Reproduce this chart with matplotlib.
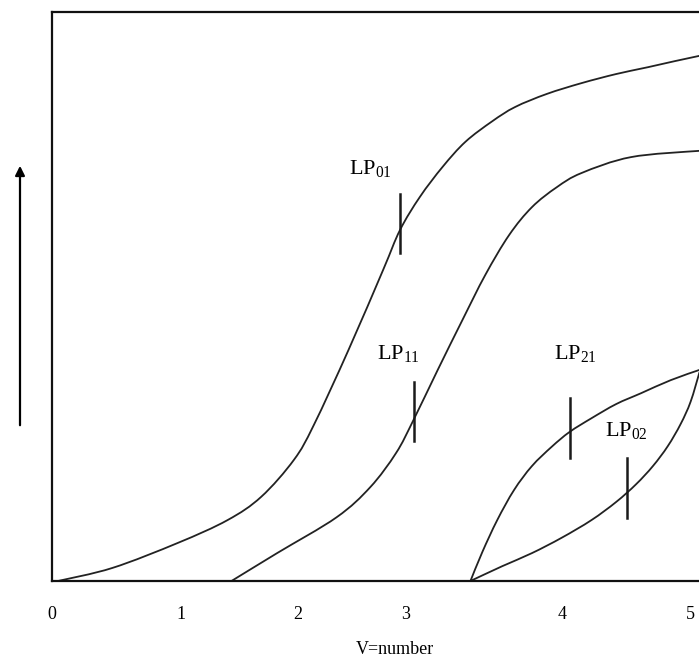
import matplotlib
matplotlib.use("Agg")
import numpy as np
import matplotlib.pyplot as plt
from matplotlib.patches import FancyArrowPatch, PathPatch
from matplotlib.path import Path

plt.rcParams['font.family'] = ['Liberation Serif', 'DejaVu Serif']
plt.rcParams['mathtext.fontset'] = 'custom'
plt.rcParams['mathtext.rm'] = 'Liberation Serif'

# curves, x in V-ish units (0 = left axis), y in 0..1
lp01_x = [0.00, 0.55, 1.21, 1.71, 2.05, 2.38, 2.58, 2.93, 3.28, 3.45, 3.65, 3.88, 4.11,
          4.38, 4.61, 4.93, 5.28, 5.63, 5.95, 6.47, 6.68]
lp01_y = [0.000, 0.023, 0.067, 0.107, 0.148, 0.213, 0.274, 0.406, 0.547, 0.617, 0.675,
          0.728, 0.772, 0.808, 0.833, 0.856, 0.875, 0.891, 0.903, 0.923, 0.928]

lp11_x = [1.75, 2.21, 2.81, 3.15, 3.41, 3.58, 3.83, 4.08, 4.31, 4.55, 4.78, 5.03, 5.28,
          5.78, 6.47, 6.68]
lp11_y = [0.000, 0.049, 0.112, 0.165, 0.225, 0.281, 0.371, 0.459, 0.538, 0.608, 0.657,
          0.692, 0.717, 0.745, 0.756, 0.757]

lp21_x = [4.16, 4.28, 4.43, 4.60, 4.78, 4.98, 5.16, 5.38, 5.63, 5.88, 6.18, 6.47]
lp21_y = [0.000, 0.051, 0.107, 0.160, 0.202, 0.236, 0.262, 0.286, 0.311, 0.330, 0.353, 0.371]

lp02_x = [4.16, 4.48, 4.78, 5.08, 5.38, 5.63, 5.83, 6.00, 6.15, 6.28, 6.38, 6.47]
lp02_y = [0.000, 0.026, 0.049, 0.076, 0.107, 0.139, 0.170, 0.202, 0.237, 0.276, 0.315, 0.367]

tick_pos = [-0.06, 1.24, 2.42, 3.51, 5.08, 6.38]
tick_lab = ['0', '1', '2', '3', '4', '5']

# (subscript, text x, text y, mark x, mark y0, mark y1)
marks = [
    ('01', 2.94, 0.724, 3.45, 0.576, 0.681),
    ('11', 3.22, 0.398, 3.59, 0.246, 0.350),
    ('21', 5.00, 0.398, 5.16, 0.216, 0.322),
    ('02', 5.52, 0.264, 5.74, 0.111, 0.216),
]


def smooth_path(xs, ys):
    # bezier through the read points (catmull-rom tangents), drawn by matplotlib
    p = np.column_stack([xs, ys])
    verts = [p[0]]
    codes = [Path.MOVETO]
    for i in range(len(p) - 1):
        a = p[i - 1] if i > 0 else p[i]
        d = p[i + 2] if i + 2 < len(p) else p[i + 1]
        c1 = p[i] + (p[i + 1] - a) / 6
        c2 = p[i + 1] - (d - p[i]) / 6
        verts += [c1, c2, p[i + 1]]
        codes += [Path.CURVE4] * 3
    return Path(verts, codes)


fig = plt.figure(figsize=(6.99, 6.64), dpi=100)
ax = fig.add_axes([52 / 699, 83 / 664, 708 / 699, 569 / 664])
ax.set_xlim(0, 7.08)
ax.set_ylim(0, 1)

for xs, ys in [(lp01_x, lp01_y), (lp11_x, lp11_y), (lp21_x, lp21_y), (lp02_x, lp02_y)]:
    ax.add_patch(PathPatch(smooth_path(xs, ys), facecolor='none',
                           edgecolor='#222222', lw=1.3))

for sub, tx, ty, mx, y0, y1 in marks:
    ax.plot([mx, mx], [y0, y1], color='#1a1a1a', lw=1.8)
    ax.text(tx, ty, 'LP$_{\\mathrm{' + sub + '}}$', fontsize=16, ha='left', va='center')

for s in ax.spines.values():
    s.set_linewidth(1.6)
    s.set_color('#111111')

ax.set_xticks(tick_pos)
ax.set_xticklabels(tick_lab, fontsize=13)
ax.tick_params(axis='x', length=0, pad=18)
ax.set_yticks([])
ax.set_xlabel('V=number', fontsize=13)
ax.xaxis.set_label_coords((395 - 52) / 708, -0.105)

# arrow at the left, outside the axes
fig.add_artist(FancyArrowPatch(
    (20 / 699, 1 - 428 / 664), (20 / 699, 1 - 163 / 664),
    transform=fig.transFigure, arrowstyle='-|>', mutation_scale=14,
    color='black', lw=1.6))

fig.savefig('out.png', dpi=100)
